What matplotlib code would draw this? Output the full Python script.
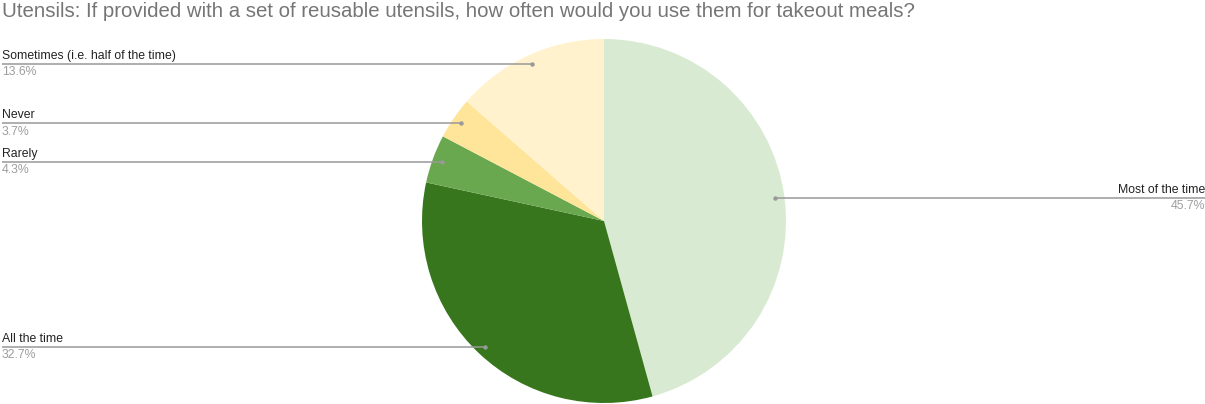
import matplotlib
matplotlib.use("Agg")
import matplotlib.pyplot as plt
import numpy as np

plt.rcParams['font.family'] = ['Liberation Sans', 'DejaVu Sans']

title = "Utensils: If provided with a set of reusable utensils, how often would you use them for takeout meals?"
categories = ["Most of the time", "All the time", "Rarely", "Never", "Sometimes (i.e. half of the time)"]
shares = [45.7, 32.7, 4.3, 3.7, 13.6]
colors = ["#d9ead3", "#38761d", "#6aa84f", "#ffe599", "#fff2cc"]

W, H = 1205, 404
fig = plt.figure(figsize=(W / 100, H / 100), dpi=100)
ax = fig.add_axes([0, 0, 1, 1])

cx, cy, R = 604, H - 221, 182
wedges, _ = ax.pie(shares, colors=colors, startangle=90, counterclock=False,
                   center=(cx, cy), radius=R, frame=True)
ax.set_xlim(0, W)
ax.set_ylim(0, H)
ax.set_aspect('equal')
ax.axis('off')

for w, name, val in zip(wedges, categories, shares):
    mid = np.deg2rad((w.theta1 + w.theta2) / 2)
    px = cx + 0.95 * R * np.cos(mid)
    py = cy + 0.95 * R * np.sin(mid)
    if px < cx:
        x0, ha = 2, 'left'
    else:
        x0, ha = W, 'right'
    ax.plot([x0, px], [py, py], color="#999999", lw=1.1, solid_capstyle='butt')
    ax.plot(px, py, 'o', color="#999999", ms=3.2, mec='none')
    ax.text(x0, py + 2, name, ha=ha, va='bottom', fontsize=8.8, color="#222222")
    ax.text(x0, py - 2.5, f"{val}%", ha=ha, va='top', fontsize=8.8, color="#9e9e9e")

fig.text(2 / W, 1 - 2 / H, title, ha='left', va='top', fontsize=14.7, color="#757575")

fig.savefig("out.png", dpi=100)
